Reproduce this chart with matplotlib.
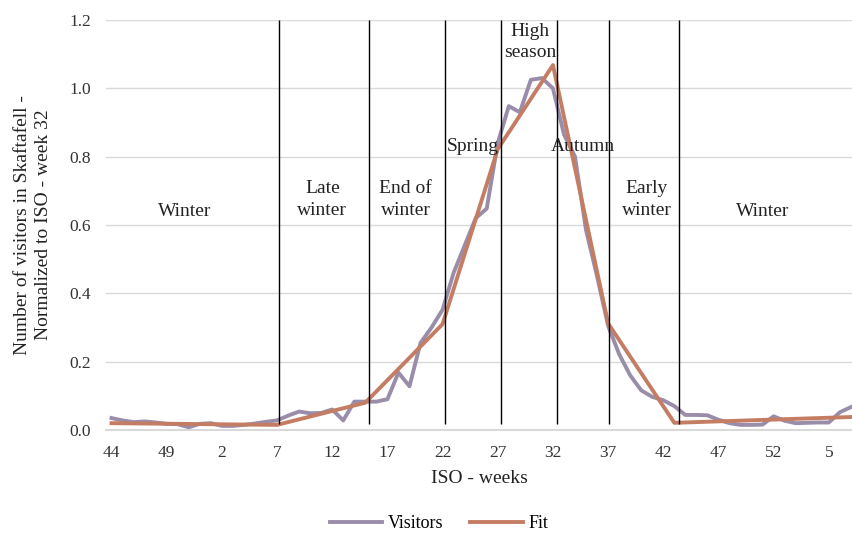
import numpy as np
import matplotlib
matplotlib.use('Agg')
import matplotlib.pyplot as plt

# 1. 字体
plt.rcParams['font.family'] = ['Liberation Serif', 'DejaVu Serif']

# 2. 数据
weeks = list(range(44, 53)) + list(range(1, 53)) + list(range(1, 8))

visitors = [
    0.035, 0.028, 0.023, 0.025, 0.022, 0.018, 0.017, 0.008, 0.018, 0.020,
    0.012, 0.012, 0.015, 0.019, 0.024, 0.028, 0.042, 0.054, 0.049, 0.050,
    0.060, 0.028, 0.083, 0.083, 0.083, 0.090, 0.168, 0.128, 0.255, 0.300,
    0.352, 0.460, 0.540, 0.620, 0.648, 0.840, 0.948, 0.930, 1.025, 1.030,
    1.000, 0.865, 0.800, 0.585, 0.450, 0.305, 0.222, 0.160, 0.116, 0.097,
    0.087, 0.070, 0.044, 0.044, 0.043, 0.030, 0.020, 0.015, 0.015, 0.016,
    0.040, 0.027, 0.020, 0.021, 0.022, 0.022, 0.052, 0.067]

# 拟合曲线的折点 (周序号, 数值)
fit_idx = [0, 15, 23, 30, 35, 40, 45, 51, 67]
fit_vals = [0.020, 0.015, 0.080, 0.310, 0.822, 1.068, 0.312, 0.021, 0.038]

# 季节分界线 (周序号)
season_bounds = [15.2, 23.3, 30.25, 35.3, 40.4, 45.1, 51.4]
season_names = ['Winter', 'Late\nwinter', 'End of\nwinter', 'Spring',
                'High\nseason', 'Autumn', 'Early\nwinter', 'Winter']
label_pos = [(6.6, 0.64), (19.1, 0.675), (26.65, 0.675), (32.7, 0.83),
             (37.9, 1.135), (42.7, 0.83), (48.5, 0.675), (59.0, 0.64)]

# 3. 画布
fig = plt.figure(figsize=(8.52, 5.34), dpi=100)
ax = fig.add_axes([106 / 852, 1 - 430 / 534, 1 - 106 / 852, 410 / 534])

x = np.arange(len(weeks))
ax.plot(x, visitors, color='#9a8daa', linewidth=2.8, label='Visitors',
        solid_joinstyle='round', zorder=3)
ax.plot(fit_idx, fit_vals, color='#c47d63', linewidth=2.8, label='Fit',
        solid_joinstyle='round', zorder=4)

ax.vlines(season_bounds, 0.018, 1.2, color='black', linewidth=1.0,
          zorder=5, clip_on=False)

for name, (tx, ty) in zip(season_names, label_pos):
    ax.text(tx, ty, name, ha='center', va='center', fontsize=14,
            linespacing=1.35, color='#222222', zorder=6)

# 4. 坐标轴
ax.set_xlim(-0.5, 67.1)
ax.set_ylim(0, 1.2)
ax.set_yticks(np.arange(0, 1.21, 0.2))
ax.set_yticklabels([f'{v:.1f}' for v in np.arange(0, 1.21, 0.2)])
ax.set_xticks(x[::5])
ax.set_xticklabels([str(w) for w in weeks[::5]])
ax.tick_params(length=0, labelsize=12.5, colors='#333333')
ax.tick_params(axis='x', pad=11)
ax.tick_params(axis='y', pad=11)
ax.grid(axis='y', color='#d9d9d9', linewidth=1.0, zorder=0)
ax.set_axisbelow(True)
for s in ['top', 'right', 'left']:
    ax.spines[s].set_visible(False)
ax.spines['bottom'].set_color('#d9d9d9')
ax.spines['bottom'].set_linewidth(1.5)

ax.set_xlabel('ISO - weeks', fontsize=14, color='#222222', labelpad=6)
ax.set_ylabel('Number of visitors in Skaftafell -\nNormalized to ISO - week 32',
              fontsize=14, color='#222222', linespacing=1.3, labelpad=12)

fig.legend(loc='center', bbox_to_anchor=(439 / 852, 1 - 524 / 534), ncol=2,
           frameon=False, fontsize=13, handlelength=2.9, columnspacing=1.5,
           handletextpad=0.3, borderpad=0.2)

fig.savefig('out.png', dpi=100)
